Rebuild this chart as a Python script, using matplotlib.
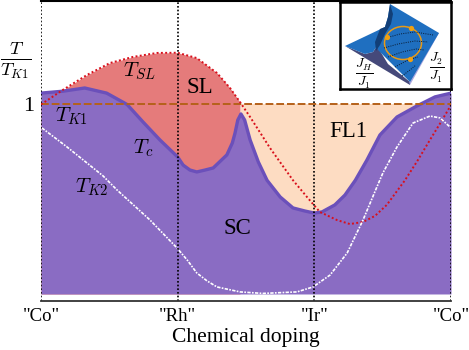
import numpy as np
import matplotlib
matplotlib.use("Agg")
from matplotlib import pyplot as plt
from matplotlib.patches import Polygon, Ellipse

plt.rcParams['font.family'] = ['Liberation Serif', 'DejaVu Serif']
plt.rcParams['mathtext.fontset'] = 'cm'

# phase boundaries, x = doping (0 Co, 1 Rh, 2 Ir, 3 Co), y = T/TK1
tc_x = [0, .16, .32, .48, .63, .746, .87, 1.0, 1.04, 1.09, 1.14, 1.2, 1.26, 1.36, 1.40, 1.42, 1.44, 1.463,
        1.49, 1.53, 1.59, 1.654, 1.75, 1.844, 1.93, 2.0, 2.056, 2.15, 2.224, 2.30, 2.385, 2.48, 2.605, 2.75, 2.883, 3.0]
tc_y = [1.06, 1.07, 1.087, 1.06, 1.0, .908, .813, .723, .68, .654, .644, .654, .665, .734, .797, .85, .918, .95,
        .918, .813, .697, .60, .512, .454, .438, .427, .433, .47, .522, .60, .707, .839, .934, .992, 1.04, 1.06]

tsl_x = [0, .16, .337, .505, .673, .849, 1.0, 1.14, 1.288, 1.383, 1.456, 1.53, 1.676, 1.844, 1.946, 2.04,
         2.166, 2.26, 2.356, 2.444, 2.53, 2.663, 2.758, 2.846, 2.927, 3.0]
tsl_y = [1.0, 1.077, 1.156, 1.219, 1.251, 1.272, 1.273, 1.245, 1.166, 1.087, 1.013, .934, .77, .60, .512, .433,
         .39, .369, .38, .412, .47, .60, .707, .813, .908, .997]

tk2_x = [.007, .19, .337, .454, .556, .798, .995, 1.07, 1.14, 1.215, 1.288, 1.456, 1.624, 1.873, 1.99, 2.115,
         2.24, 2.356, 2.458, 2.502, 2.605, 2.722, 2.846, 2.92, 2.993]
tk2_y = [.876, .776, .691, .623, .549, .39, .243, .179, .111, .069, .037, .011, .003, .011, .037, .10,
         .216, .39, .565, .639, .776, .902, .939, .929, .881]

doping_pos = [0, 1, 2, 3]
doping_labels = ['"Co"', '"Rh"', '"Ir"', '"Co"']

# inset surface, in inset pixels
surface = [(5, 44), (45, 25), (48, 15), (50, 2), (99, 31), (70, 80), (38, 48), (37, 44), (33, 50), (25, 52)]
side_dark = [(5, 44), (25, 52), (33, 50), (37, 44), (48, 62), (70, 80), (70, 83)]
side_light = [(95, 31), (99, 31), (70, 83), (69, 79)]
fold = [(40, 27), (45, 25), (48, 15), (50, 2), (53, 12), (51, 22), (45, 32), (40, 43), (36, 49), (35, 40)]
contours = [
    [(46, 36), (60, 32), (75, 30), (93, 33)],
    [(44, 46), (58, 42), (75, 39), (88, 40)],
    [(48, 55), (62, 50), (76, 47), (84, 48)],
    [(55, 65), (68, 58), (78, 55)],
    [(62, 74), (70, 68), (76, 63)],
]
orbit_dots = [(71, 26), (47, 35), (70, 57)]

fig = plt.figure(figsize=(4.69, 3.5), dpi=100)
ax = fig.add_axes([41 / 469, 49 / 350, 410 / 469, 300 / 350])
ax.set_xlim(0, 3)
ax.set_ylim(-0.037, 1.546)

tc_x = np.array(tc_x)
tsl_x = np.array(tsl_x)
tsl_y = np.array(tsl_y)

left = tsl_x <= 1.46
ax.fill_between(tsl_x[left], 0, tsl_y[left], color='#e57b7b', lw=0)
right = tc_x >= 1.45
ax.fill_between(tc_x[right], 0, 1, color='#fddcc2', lw=0)
ax.fill_between(tc_x, 0, tc_y, color='#8a6cc3', lw=0)
ax.plot(tc_x, tc_y, color='#6b50ba', lw=2.4, solid_joinstyle='round')

ax.axhline(1, color='#b5611a', lw=1.4, ls=(0, (4, 1.5)))
ax.plot(tsl_x, tsl_y, color='#d8101c', lw=1.4, ls=(0, (1, 1.2)))
ax.plot(tk2_x, tk2_y, color='white', lw=1.2, ls=(0, (2, 0.8, 1, 0.8)))

for p in doping_pos:
    ax.axvline(p, color='black', lw=1.2, ls=(0, (1, 1.2)))

ax.spines['left'].set_visible(False)
ax.spines['right'].set_visible(False)
ax.spines['top'].set_linewidth(1.5)
ax.spines['bottom'].set_linewidth(1.3)
ax.spines['bottom'].set_color('#333333')

ax.set_xticks(doping_pos)
ax.set_xticklabels(doping_labels, fontsize=13.5)
ax.set_yticks([1])
ax.set_yticklabels(['1'], fontsize=16)
ax.tick_params(length=0, pad=5)
ax.tick_params(axis='y', pad=5)
ax.set_xlabel('Chemical doping', fontsize=15.5, labelpad=2)

ax.text(-0.187, 1.235, r'$\frac{T}{T_{K1}}$', fontsize=19, ha='center', va='center')
ax.text(.72, 1.175, r'$T_{SL}$', fontsize=15, ha='center', va='center')
ax.text(1.16, 1.09, 'SL', fontsize=16.5, ha='center', va='center')
ax.text(.22, .937, r'$T_{K1}$', fontsize=15, ha='center', va='center')
ax.text(.75, .77, r'$T_c$', fontsize=15, ha='center', va='center')
ax.text(.37, .565, r'$T_{K2}$', fontsize=15, ha='center', va='center')
ax.text(1.44, .345, 'SC', fontsize=16.5, ha='center', va='center')
ax.text(2.25, .86, 'FL1', fontsize=16.5, ha='center', va='center')

# inset
inset = fig.add_axes([340 / 469, 1 - 89 / 350, 111 / 469, 87 / 350])
inset.set_xlim(0, 111)
inset.set_ylim(87, 0)
inset.set_xticks([])
inset.set_yticks([])
for s in inset.spines.values():
    s.set_linewidth(1.8)

inset.add_patch(Polygon(side_dark, closed=True, color='#45497a', lw=0))
inset.add_patch(Polygon(side_light, closed=True, color='#a9a8e0', lw=0))
inset.add_patch(Polygon(surface, closed=True, color='#1f6fc0', lw=0))
inset.add_patch(Polygon(fold, closed=True, color='#123f78', lw=0))
for c in contours:
    cx, cy = zip(*c)
    inset.plot(cx, cy, color='#0a1a30', lw=0.7, ls=(0, (1, 1.3)))
inset.add_patch(Ellipse((63, 41), 37, 33, fill=False, ec='#e89a16', lw=1.1))
dx, dy = zip(*orbit_dots)
inset.plot(dx, dy, 'o', color='#f0a010', ms=3.8, mew=0)
inset.text(24, 72, r'$\frac{J_H}{J_1}$', fontsize=14, ha='center', va='center')
inset.text(97, 66, r'$\frac{J_2}{J_1}$', fontsize=14, ha='center', va='center')

fig.savefig('out.png', dpi=100)
